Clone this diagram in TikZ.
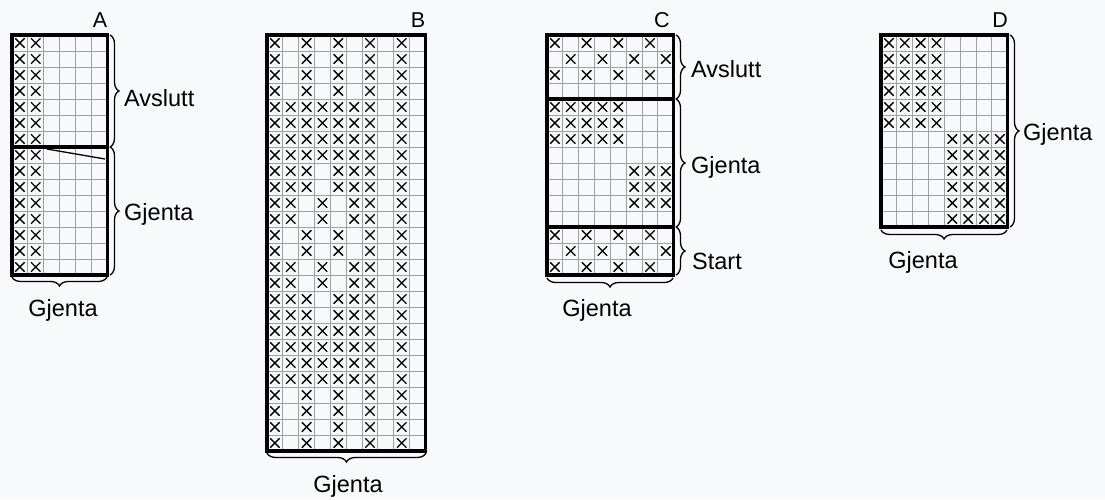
\documentclass[tikz,border=0pt]{standalone}
\usepackage{fontspec}
\setmainfont{Liberation Sans}
\usetikzlibrary{decorations.pathreplacing}
\definecolor{bgc}{RGB}{248,249,251}
\definecolor{gridc}{RGB}{160,160,160}
\newcommand\cw{15.85}
\newcommand\ch{16}
\newcommand\knitgrid[4]{%
  \foreach \i in {1,...,#3} \draw[gridline] ({#1+\i*\cw},#2) -- ({#1+\i*\cw},{#2+#4*\ch});
  \foreach \j in {1,...,#4} \draw[gridline] (#1,{#2+\j*\ch}) -- ({#1+#3*\cw},{#2+\j*\ch});
}
\newcommand\knitx[4]{%
  \draw[xmark] ({#1+(#3-0.5)*\cw-4.7},{#2+(#4-0.5)*\ch-4.7}) -- ++(9.4,9.4)
               ({#1+(#3-0.5)*\cw-4.7},{#2+(#4-0.5)*\ch+4.7}) -- ++(9.4,-9.4);
}
\newcommand\knitframe[4]{%
  \draw[frame] (#1,#2) rectangle ({#1+#3*\cw},{#2+#4*\ch});
}
\begin{document}
\begin{tikzpicture}[x=1pt,y=-1pt,
  gridline/.style={draw=gridc, line width=1pt},
  frame/.style={line width=3.2pt},
  sepline/.style={line width=3.4pt},
  xmark/.style={line width=1.35pt},
  brc/.style={decorate, decoration={brace, amplitude=9pt}, line width=1.3pt},
  lab/.style={font=\fontsize{23.5}{27}\selectfont, inner sep=0pt},
  letter/.style={font=\fontsize{21.5}{24}\selectfont, inner sep=0pt}]

\useasboundingbox[fill=bgc] (0,0) rectangle (1105,499);

% ---------------- Grid A ----------------
\knitgrid{12}{35}{6}{15}
\foreach \r in {1,...,15} {\knitx{12}{35}{1}{\r}\knitx{12}{35}{2}{\r}}
\draw[line width=1.3pt] (47,149) -- (105,159);
\draw[sepline] (12,147) -- ({12+6*\cw},147);
\knitframe{12}{35}{6}{15}
\coordinate (A1) at (110,35);
\coordinate (A2) at (110,147);
\coordinate (A3) at (110,275);
\coordinate (A4) at (107,277);
\coordinate (A5) at (12,277);
\draw[brc] (A1) -- (A2);
\draw[brc] (A2) -- (A3);
\draw[brc] (A4) -- (A5);
\node[letter, anchor=base] (lA) at (100,27.5) {A};
\node[lab, anchor=base west] (aAvs) at (124,106) {Avslutt};
\node[lab, anchor=base west] (aGje) at (124,220) {Gjenta};
\node[lab, anchor=base] (aBot) at (63,316) {Gjenta};

% ---------------- Grid B ----------------
\knitgrid{267}{35}{10}{26}
\foreach \r/\cl in {1/{1,3,5,7,9},2/{1,3,5,7,9},3/{1,3,5,7,9},4/{1,3,5,7,9},
  5/{1,2,3,4,5,6,7,9},6/{1,2,3,4,5,6,7,9},7/{1,2,3,4,5,6,7,9},8/{1,2,3,4,5,6,7,9},
  9/{1,2,3,5,6,7,9},10/{1,2,3,5,6,7,9},
  11/{1,2,4,6,7,9},12/{1,2,4,6,7,9},
  13/{1,3,5,7,9},14/{1,3,5,7,9},
  15/{1,2,4,6,7,9},16/{1,2,4,6,7,9},
  17/{1,2,3,5,6,7,9},18/{1,2,3,5,6,7,9},
  19/{1,2,3,4,5,6,7,9},20/{1,2,3,4,5,6,7,9},21/{1,2,3,4,5,6,7,9},22/{1,2,3,4,5,6,7,9},
  23/{1,3,5,7,9},24/{1,3,5,7,9},25/{1,3,5,7,9},26/{1,3,5,7,9}}
  {\foreach \c in \cl {\knitx{267}{35}{\c}{\r}}}
\knitframe{267}{35}{10}{26}
\coordinate (B1) at (426,453);
\coordinate (B2) at (267,453);
\draw[brc] (B1) -- (B2);
\node[letter, anchor=base] (lB) at (418,27.5) {B};
\node[lab, anchor=base] (bBot) at (348,492) {Gjenta};

% ---------------- Grid C ----------------
\knitgrid{547}{35}{8}{15}
\foreach \r/\cl in {1/{1,3,5,7},2/{2,4,6,8},3/{1,3,5,7},
  5/{1,2,3,4,5},6/{1,2,3,4,5},7/{1,2,3,4,5},
  9/{6,7,8},10/{6,7,8},11/{6,7,8},
  13/{1,3,5,7},14/{2,4,6,8},15/{1,3,5,7}}
  {\foreach \c in \cl {\knitx{547}{35}{\c}{\r}}}
\draw[sepline] (547,99) -- ({547+8*\cw},99);
\draw[sepline] (547,227) -- ({547+8*\cw},227);
\knitframe{547}{35}{8}{15}
\coordinate (C1) at (676,35);
\coordinate (C2) at (676,99);
\coordinate (C3) at (676,227);
\coordinate (C4) at (676,275);
\coordinate (C5) at (673,278);
\coordinate (C6) at (547,278);
\draw[brc] (C1) -- (C2);
\draw[brc] (C2) -- (C3);
\draw[brc] (C3) -- (C4);
\draw[brc] (C5) -- (C6);
\node[letter, anchor=base] (lC) at (662,27.5) {C};
\node[lab, anchor=base west] (cAvs) at (691,77) {Avslutt};
\node[lab, anchor=base west] (cGje) at (691,173) {Gjenta};
\node[lab, anchor=base west] (cSta) at (692,269) {Start};
\node[lab, anchor=base] (cBot) at (597,316) {Gjenta};

% ---------------- Grid D ----------------
\knitgrid{881}{35}{8}{12}
\foreach \r in {1,...,6} {\foreach \c in {1,2,3,4} {\knitx{881}{35}{\c}{\r}}}
\foreach \r in {7,...,12} {\foreach \c in {5,6,7,8} {\knitx{881}{35}{\c}{\r}}}
\knitframe{881}{35}{8}{12}
\coordinate (D1) at (1010,35);
\coordinate (D2) at (1010,227);
\coordinate (D3) at (1007,230);
\coordinate (D4) at (881,230);
\draw[brc] (D1) -- (D2);
\draw[brc] (D3) -- (D4);
\node[letter, anchor=base] (lD) at (1000,27.5) {D};
\node[lab, anchor=base west] (dGje) at (1023,140) {Gjenta};
\node[lab, anchor=base] (dBot) at (923,268) {Gjenta};
\end{tikzpicture}
\end{document}
